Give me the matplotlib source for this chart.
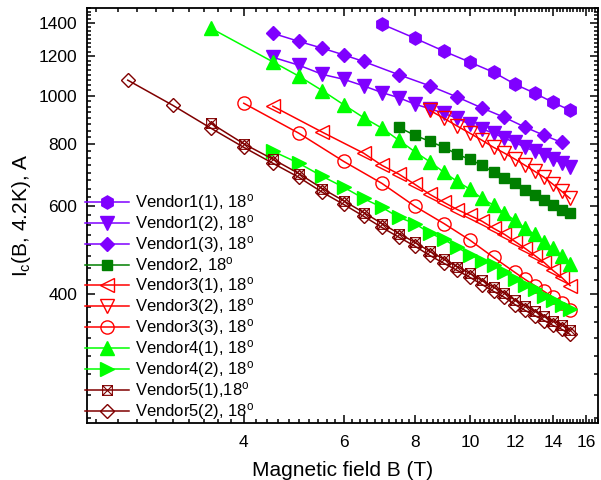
import matplotlib
matplotlib.use("Agg")
from matplotlib import pyplot as plt
from matplotlib.path import Path
from matplotlib.ticker import MultipleLocator, NullFormatter, FixedLocator

plt.rcParams['font.family'] = ['Liberation Sans', 'DejaVu Sans']
plt.rcParams['mathtext.default'] = 'regular'

# dados (campo B em T, corrente Ic em A)
b_v1_1 = [7, 8, 9, 10, 11, 12, 13, 14, 15]
ic_v1_1 = [1392, 1304, 1228, 1167, 1114, 1054, 1011, 969, 934]

b_v1_2 = [4.5, 5, 5.5, 6, 6.5, 7, 7.5, 8, 8.5, 9, 9.5, 10, 10.5, 11, 11.5, 12, 12.5, 13, 13.5, 14, 14.5, 15]
ic_v1_2 = [1194, 1151, 1103, 1078, 1046, 1014, 990, 961, 941, 921, 900, 875, 857, 840, 821, 805, 787, 773, 759, 745, 731, 718]

b_v1_3 = [4.5, 5, 5.5, 6, 6.5, 7.5, 8.5, 9.5, 10.5, 11.5, 12.5, 13.5, 14.5]
ic_v1_3 = [1334, 1285, 1245, 1207, 1171, 1101, 1046, 993, 944, 904, 864, 832, 805]

b_v2 = [7.5, 8, 8.5, 9, 9.5, 10, 10.5, 11, 11.5, 12, 12.5, 13, 13.5, 14, 14.5, 15]
ic_v2 = [863, 832, 809, 787, 762, 744, 724, 701, 682, 666, 645, 630, 616, 602, 590, 582]

b_v3_1 = [4.5, 5.5, 6.5, 7, 7.5, 8, 8.5, 9, 9.5, 10, 10.5, 11, 11.5, 12, 12.5, 13, 13.5, 14, 14.5, 15]
ic_v3_1 = [952, 844, 766, 724, 695, 663, 633, 610, 590, 574, 559, 541, 526, 509, 493, 477, 462, 445, 431, 415]

b_v3_2 = [8.5, 9, 9.5, 10, 10.5, 11, 11.5, 12, 12.5, 13, 13.5, 14, 14.5, 15]
ic_v3_2 = [934, 900, 868, 840, 813, 787, 766, 745, 724, 704, 685, 663, 642, 621]

b_v3_3 = [4, 5, 6, 7, 8, 9, 10, 11, 12, 12.5, 13, 13.5, 14, 14.5, 15]
ic_v3_3 = [965, 840, 737, 666, 599, 553, 512, 473, 441, 427, 415, 404, 393, 382, 370]

b_v4_1 = [3.5, 4.5, 5, 5.5, 6, 6.5, 7, 7.5, 8, 8.5, 9, 9.5, 10, 10.5, 11, 11.5, 12, 12.5, 13, 13.5, 14, 14.5, 15]
ic_v4_1 = [1366, 1169, 1094, 1023, 958, 903, 860, 813, 771, 736, 701, 672, 648, 621, 602, 580, 561, 541, 526, 507, 493, 475, 458]

b_v4_2 = [4.5, 5, 5.5, 6, 6.5, 7, 7.5, 8, 8.5, 9, 9.5, 10, 10.5, 11, 11.5, 12, 12.5, 13, 13.5, 14, 14.5, 15]
ic_v4_2 = [773, 731, 688, 654, 621, 596, 569, 553, 529, 514, 495, 479, 466, 456, 441, 427, 417, 408, 396, 389, 380, 372]

b_v5_1 = [3.5, 4, 4.5, 5, 5.5, 6, 6.5, 7, 7.5, 8, 8.5, 9, 9.5, 10, 10.5, 11, 11.5, 12, 12.5, 13, 13.5, 14, 14.5, 15]
ic_v5_1 = [880, 800, 745, 697, 650, 614, 582, 553, 528, 507, 486, 469, 453, 439, 425, 412, 401, 388, 378, 369, 360, 352, 346, 338]

b_v5_2 = [2.5, 3, 3.5, 4, 4.5, 5, 5.5, 6, 6.5, 7, 7.5, 8, 8.5, 9, 9.5, 10, 10.5, 11, 11.5, 12, 12.5, 13, 13.5, 14, 14.5, 15]
ic_v5_2 = [1074, 956, 860, 787, 731, 685, 639, 604, 572, 543, 519, 498, 477, 460, 445, 431, 417, 404, 393, 380, 370, 361, 353, 345, 339, 331]

x_ticks = [4, 6, 8, 10, 12, 14, 16]
y_ticks = [400, 600, 800, 1000, 1200, 1400]

# marcador "quadrado com X" (Vendor5(1))
caixa_x = Path([(-1, -1), (1, -1), (1, 1), (-1, 1), (-1, -1), (-1, -1), (1, 1), (-1, 1), (1, -1)],
               [Path.MOVETO, Path.LINETO, Path.LINETO, Path.LINETO, Path.CLOSEPOLY,
                Path.MOVETO, Path.LINETO, Path.MOVETO, Path.LINETO])

roxo = '#7f00ff'
verde_esc = '#007f00'
vermelho = '#ff0000'
verde = '#00ff00'
marrom = '#800000'

fig = plt.figure(figsize=(6.01, 4.8), dpi=100)
ax = fig.add_axes([0.1448, 0.1194, 0.8503, 0.864])

ms = 9.5
lw = 1.1
ax.plot(b_v1_1, ic_v1_1, '-', marker='h', color=roxo, ms=ms, lw=lw, label='Vendor1(1), 18$^o$')
ax.plot(b_v1_2, ic_v1_2, '-', marker='v', color=roxo, ms=ms, lw=lw, label='Vendor1(2), 18$^o$')
ax.plot(b_v1_3, ic_v1_3, '-', marker='D', color=roxo, ms=7.5, lw=lw, label='Vendor1(3), 18$^o$')
ax.plot(b_v2, ic_v2, '-', marker='s', color=verde_esc, ms=7.5, lw=lw, label='Vendor2, 18$^o$')
ax.plot(b_v3_1, ic_v3_1, '-', marker='<', color=vermelho, mfc='none', ms=ms, lw=lw, label='Vendor3(1), 18$^o$')
ax.plot(b_v3_2, ic_v3_2, '-', marker='v', color=vermelho, mfc='none', ms=ms, lw=lw, label='Vendor3(2), 18$^o$')
ax.plot(b_v3_3, ic_v3_3, '-', marker='o', color=vermelho, mfc='none', ms=ms, lw=lw, label='Vendor3(3), 18$^o$')
ax.plot(b_v4_1, ic_v4_1, '-', marker='^', color=verde, ms=ms, lw=lw, label='Vendor4(1), 18$^o$')
ax.plot(b_v4_2, ic_v4_2, '-', marker='>', color=verde, ms=ms, lw=lw, label='Vendor4(2), 18$^o$')
ax.plot(b_v5_1, ic_v5_1, '-', marker=caixa_x, color=marrom, mfc='none', ms=7, lw=lw, mew=0.8,
        label='Vendor5(1),18$^o$')
ax.plot(b_v5_2, ic_v5_2, '-', marker='D', color=marrom, mfc='none', ms=7.5, lw=lw, label='Vendor5(2), 18$^o$')

ax.set_xscale('log')
ax.set_yscale('log')
ax.set_xlim(2.12, 16.8)
ax.set_ylim(220, 1500)

ax.xaxis.set_major_locator(FixedLocator(x_ticks))
ax.set_xticklabels([str(t) for t in x_ticks])
ax.xaxis.set_minor_locator(MultipleLocator(0.2))
ax.xaxis.set_minor_formatter(NullFormatter())
ax.yaxis.set_major_locator(FixedLocator(y_ticks))
ax.set_yticklabels([str(t) for t in y_ticks])
ax.yaxis.set_minor_locator(MultipleLocator(25))
ax.yaxis.set_minor_formatter(NullFormatter())

ax.tick_params(which='both', direction='in', top=True, right=True, labelsize=12.5, width=1.1)
ax.tick_params(which='major', length=6)
ax.tick_params(which='minor', length=3)
ax.tick_params(axis='x', which='major', pad=9)
ax.tick_params(axis='y', which='major', pad=7)
for s in ax.spines.values():
    s.set_linewidth(1.3)

ax.set_xlabel('Magnetic field B (T)', fontsize=15, labelpad=8)
ax.set_ylabel('I$_c$(B, 4.2K), A', fontsize=15)

ax.legend(loc='upper left', bbox_to_anchor=(-0.003, 0.556), frameon=False, fontsize=12,
          handlelength=2.6, handletextpad=0.35, labelspacing=0.0, borderpad=0, borderaxespad=0)

plt.savefig('out.png', dpi=100)
